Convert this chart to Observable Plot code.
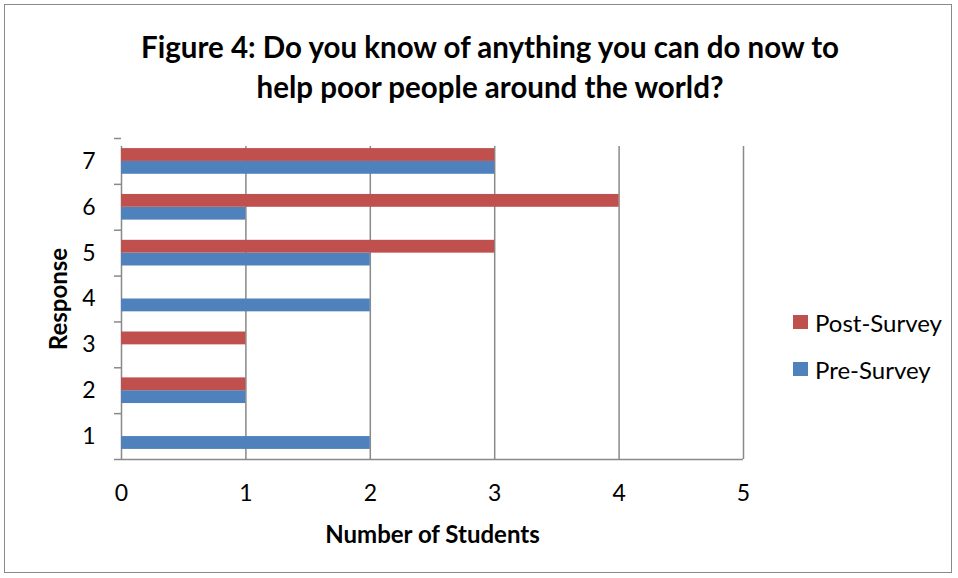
<!DOCTYPE html>
<html>
<head>
<meta charset="utf-8">
<script src="https://cdn.jsdelivr.net/npm/d3@7"></script>
<script src="https://cdn.jsdelivr.net/npm/@observablehq/plot@0.6"></script>
<style>
  html, body { margin: 0; padding: 0; background: #fff; }
  #chart {
    position: relative;
    width: 958px;
    height: 578px;
    font-family: Lato, "Open Sans", sans-serif;
    color: #000;
    overflow: hidden;
  }
  #border {
    position: absolute;
    left: 4px; top: 4px; width: 946px; height: 567px;
    border: 1.5px solid #8a8a8a;
    pointer-events: none;
  }
  #title {
    height: 112px;
    box-sizing: border-box;
    padding-top: 27px;
    text-align: center;
    font-weight: bold;
    font-size: 29.5px;
    line-height: 40px;
    padding-left: 22px;
  }
  #plot svg { display: block; }
  #legend {
    position: absolute;
    left: 793px;
    top: 308px;
    font-size: 24px;
  }
  .item { display: flex; align-items: center; height: 28px; margin-bottom: 19px; }
  .swatch { width: 15px; height: 14px; margin-right: 7px; }
</style>
</head>
<body>
<div id="chart">
  <div id="title">Figure 4: Do you know of anything you can do now to<br>help poor people around the world?</div>
  <div id="plot"></div>
  <div id="legend"></div>
  <div id="border"></div>
</div>
<script>
// Responses on the 1–7 scale and the number of students giving each
const responses = [1, 2, 3, 4, 5, 6, 7];
const preSurvey  = [2, 1, 0, 2, 2, 1, 3];
const postSurvey = [0, 1, 1, 0, 3, 4, 3];
const xTicks = [0, 1, 2, 3, 4, 5];
const seriesNames = ["Post-Survey", "Pre-Survey"];
const seriesColors = { "Post-Survey": "#C0504D", "Pre-Survey": "#4F81BD" };

const rows = responses.flatMap((r, i) => [
  { response: r, series: "Pre-Survey", count: preSurvey[i] },
  { response: r, series: "Post-Survey", count: postSurvey[i] }
]);

// half of a response slot taken by each bar (in response units)
const barSpan = 0.28;
// boundaries between response slots, where the axis ticks sit
const boundaries = d3.range(responses.length + 1).map(i => responses[0] - 0.5 + i);

const gray = "#898989";
const fontFamily = "Lato, 'Open Sans', sans-serif";

const plot = Plot.plot({
  width: 958,
  height: 466,
  marginTop: 26,
  marginBottom: 119,
  marginLeft: 121,
  marginRight: 215,
  style: { fontFamily, background: "transparent", overflow: "visible" },
  x: { domain: [0, 5], axis: null },
  y: { domain: [boundaries[0], boundaries[boundaries.length - 1]], axis: null },
  marks: [
    // vertical gridlines, extended below the axis as tick marks
    Plot.ruleX(xTicks, { x: d => d, y1: boundaries[0], y2: boundaries[boundaries.length - 1], insetBottom: -8, stroke: gray, strokeWidth: 1.5 }),
    // category axis ticks on the left
    Plot.ruleY(boundaries, { y: d => d, x1: 0, x2: 0, insetLeft: -7, stroke: gray, strokeWidth: 1.5 }),
    // value axis line
    Plot.ruleY([boundaries[0]], { stroke: gray, strokeWidth: 1.5 }),
    // bars: post-survey above, pre-survey below, within each response slot
    Plot.rectX(rows, {
      x1: 0,
      x2: "count",
      y1: d => d.series === "Post-Survey" ? d.response : d.response - barSpan,
      y2: d => d.series === "Post-Survey" ? d.response + barSpan : d.response,
      fill: d => seriesColors[d.series]
    }),
    // tick labels
    Plot.text(xTicks, { x: d => d, frameAnchor: "bottom", textAnchor: "middle", dy: 41, fontSize: 23, fill: "#000" }),
    Plot.text(responses, { y: d => d, text: d => String(d), frameAnchor: "left", dx: -26, textAnchor: "end", fontSize: 23, fill: "#000" }),
    // axis titles
    Plot.text(["Number of Students"], { frameAnchor: "bottom", textAnchor: "middle", dy: 83, fontSize: 24, fontWeight: "bold", fill: "#000" }),
    Plot.text(["Response"], { frameAnchor: "left", textAnchor: "middle", dx: -62, rotate: -90, fontSize: 24, fontWeight: "bold", fill: "#000" })
  ]
});
document.getElementById("plot").appendChild(plot);

// legend
const legend = document.getElementById("legend");
for (const name of seriesNames) {
  const item = document.createElement("div");
  item.className = "item";
  const sw = document.createElement("div");
  sw.className = "swatch";
  sw.style.background = seriesColors[name];
  const label = document.createElement("span");
  label.textContent = name;
  item.appendChild(sw);
  item.appendChild(label);
  legend.appendChild(item);
}
</script>
</body>
</html>
